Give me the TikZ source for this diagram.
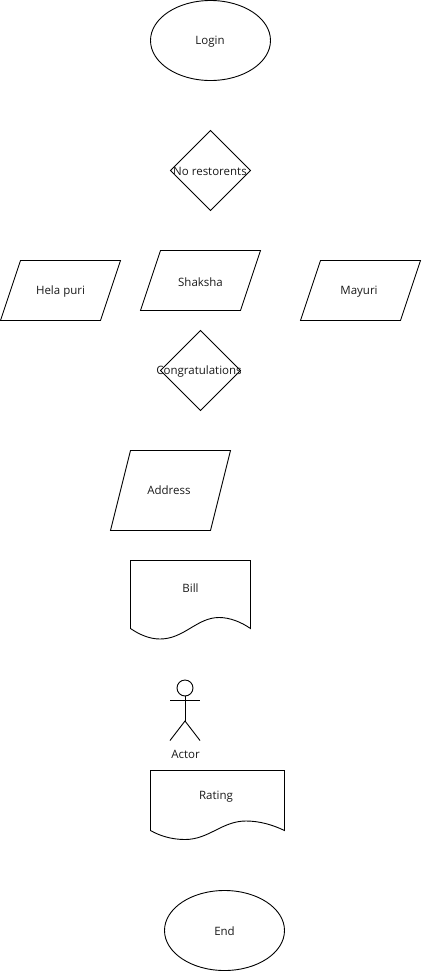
\documentclass[tikz,border=0pt]{standalone}
\usepackage{fontspec}
\setmainfont{Open Sans}
\tikzset{
  outline/.style={draw=black,line width=0.9pt,line join=miter},
  lbl/.style={inner sep=0pt,yshift=-1.2pt,font=\fontsize{11.5}{14}\selectfont,text=black!90}
}
\begin{document}
\begin{tikzpicture}[x=1pt,y=-1pt]
\useasboundingbox (0,0) rectangle (422,972);
% ellipses
\draw[outline] (210.5,40.5) ellipse [x radius=60,y radius=40];
\node[lbl] (login) at (210,40.5) {Login};
\draw[outline] (224.5,930.5) ellipse [x radius=60,y radius=40];
\node[lbl] (endn) at (224.5,930) {End};
% diamonds
\draw[outline] (210.5,130.5) -- (250.5,170.5) -- (210.5,210.5) -- (170.5,170.5) -- cycle;
\node[lbl] (rest) at (210,170) {No restorents};
\draw[outline] (200.5,330.5) -- (240.5,370.5) -- (200.5,410.5) -- (160.5,370.5) -- cycle;
\node[lbl] (cong) at (199,370) {Congratulations};
% parallelograms
\draw[outline] (20.5,260.5) -- (120.5,260.5) -- (100.5,320.5) -- (0.5,320.5) -- cycle;
\node[lbl] (hela) at (60.5,290.5) {Hela puri};
\draw[outline] (160.5,250.5) -- (260.5,250.5) -- (240.5,310.5) -- (140.5,310.5) -- cycle;
\node[lbl] (shak) at (200.5,280.5) {Shaksha};
\draw[outline] (320.5,260.5) -- (420.5,260.5) -- (400.5,320.5) -- (300.5,320.5) -- cycle;
\node[lbl] (may) at (359,290.5) {Mayuri};
\draw[outline] (130.5,450.5) -- (230.5,450.5) -- (210.5,530.5) -- (110.5,530.5) -- cycle;
\node[lbl] (addr) at (169,489) {Address};
% documents
\draw[outline] (130.5,560.5) -- (250.5,560.5) -- (250.5,628.5)
  .. controls (241,622) and (230,617.5) .. (219,617.5)
  .. controls (197,617.5) and (184,639) .. (160,639)
  .. controls (150,639) and (140,635) .. (130.5,628.5) -- cycle;
\node[lbl] (bill) at (190.5,587) {Bill};
\draw[outline] (150.5,770.5) -- (284.5,770.5) -- (284.5,830.5)
  .. controls (272,824.5) and (259,821) .. (246,821)
  .. controls (222,821) and (209,839.5) .. (185,839.5)
  .. controls (172,839.5) and (160,836) .. (150.5,830.5) -- cycle;
\node[lbl] (rate) at (216,795.5) {Rating};
% actor
\draw[outline] (185,688) circle [radius=8];
\draw[outline] (185,696) -- (185,721);
\draw[outline] (170,700.5) -- (200,700.5);
\draw[outline] (170,740.5) -- (185,721) -- (200,740.5);
\node[lbl] (actor) at (185.5,753.5) {Actor};
\end{tikzpicture}
\end{document}
